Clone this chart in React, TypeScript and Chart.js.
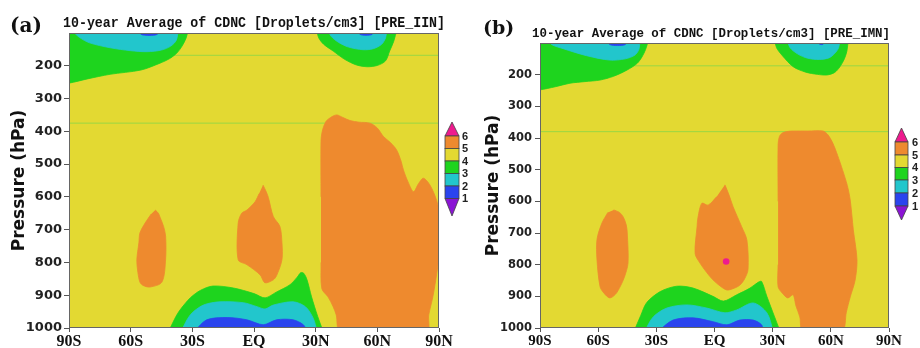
import React, { useEffect, useRef } from 'react';
import { Chart, registerables } from 'chart.js';

Chart.register(...registerables);

// ---------- axis / legend labels ----------
const xTickValues = [-90, -60, -30, 0, 30, 60, 90];
const xTickLabels = ['90S', '60S', '30S', 'EQ', '30N', '60N', '90N'];
const yTickValues = [200, 300, 400, 500, 600, 700, 800, 900, 1000];
const colorbarLabels = ['6', '5', '4', '3', '2', '1'];
const titleA = '10-year Average of CDNC [Droplets/cm3] [PRE_IIN]';
const titleB = '10-year Average of CDNC [Droplets/cm3] [PRE_IMN]';
const yAxisTitle = 'Pressure (hPa)';

// ---------- contour regions, [latitude, pressure] ----------
// Panel (a)
const aTopLeftGreen = [[-95, 90], [-95, 255], [-90, 253], [-81, 240], [-70, 226], [-55, 213], [-45.7, 192], [-41, 178], [-37.5, 161], [-35, 140], [-33, 115], [-32, 90]];
const aTopLeftCyan = [[-89, 90], [-85, 113], [-80, 130], [-70, 145], [-60, 154], [-52, 157], [-45, 152], [-40.5, 140], [-37.8, 122], [-36.8, 90]];
const aTopLeftBlue = [[-56, 90], [-55, 104], [-51, 107.5], [-47, 104], [-46, 90]];
const aTopRightGreen = [[30.5, 90], [31.5, 115], [34, 135], [38.5, 155], [44, 180], [50, 198], [55, 203], [60, 199], [64, 185], [66, 155], [68, 125], [69.5, 90]];
const aTopRightCyan = [[36, 90], [37.5, 110], [41, 128], [46, 143], [53, 151], [58, 148], [62, 135], [64, 115], [64.6, 90]];
const aTopRightBlue = [[50.5, 90], [51.5, 104], [54.5, 107], [57.5, 104], [58.5, 90]];
const aOrangeNorth = [[32.6, 600], [32.6, 430], [33.2, 400], [35, 370], [38, 355], [40.3, 350], [43, 357], [46.7, 367], [51, 372], [56.4, 375], [60, 390], [63, 416], [66.5, 435], [69.4, 457], [71.5, 490], [72.7, 518], [75, 555], [77.6, 584], [80, 560], [82.4, 543], [85.6, 564], [88.8, 610], [90.5, 660], [90.5, 750], [89, 830], [87, 905], [85, 960], [84, 1010], [42, 1010], [40, 960], [38.5, 935], [36, 905], [33, 880], [32.6, 800]];
const aOrangeSouth = [[-48, 640], [-46.5, 650], [-45.7, 662], [-44, 690], [-43, 720], [-43, 790], [-44.8, 860], [-50.6, 875], [-54, 870], [-55.5, 860], [-56.5, 830], [-57, 792], [-56, 740], [-55.5, 710], [-53, 680], [-50, 652]];
const aOrangeEq = [[4.4, 564], [6, 585], [7, 602], [9.4, 660], [12.6, 690], [13.6, 740], [13.6, 792], [11, 840], [9.4, 853], [5.3, 862], [3, 838], [-3.4, 807], [-7.7, 792], [-7.7, 680], [-6, 650], [-3.4, 640], [0.5, 615], [2.5, 590]];
const aBottomGreen = [[-41.5, 1010], [-38, 965], [-36, 945], [-31, 908], [-26, 885], [-20, 872], [-10, 878], [0, 895], [5.4, 908], [11, 890], [17.5, 868], [21, 845], [22.8, 831], [24.2, 833], [25.8, 853], [28, 905], [31, 965], [33.6, 1010]];
const aBottomCyan = [[-35.5, 1010], [-31, 960], [-24.6, 930], [-16.5, 920], [-5, 923], [1.5, 935], [5.4, 942], [9.4, 930], [19, 920], [25, 935], [28.8, 970], [30.7, 1010]];
const aBottomBlue = [[-29, 1010], [-23, 975], [-13, 968], [-3.5, 975], [4.5, 990], [11, 975], [19, 975], [24, 990], [25.8, 1010]];
const aFaintLevels = [168, 375];

// Panel (b)
const bTopLeftGreen = [[-95, 90], [-95, 250], [-90, 248], [-82, 238], [-74.5, 227], [-67, 222], [-59, 217], [-52, 205], [-45, 185], [-40, 165], [-37.4, 144], [-35.5, 120], [-34, 90]];
const bTopLeftCyan = [[-86, 90], [-84, 105], [-78, 118], [-66, 140], [-54, 154], [-46, 150], [-41, 138], [-39, 120], [-38.4, 90]];
const bTopLeftBlue = [[-55.5, 90], [-54, 105], [-50, 108], [-46, 105], [-45, 90]];
const bTopRightGreen = [[31, 90], [32, 115], [35, 140], [40.6, 175], [47, 192], [53, 199], [58, 201], [62, 193], [64.7, 175], [67, 150], [68.3, 125], [69, 90]];
const bTopRightCyan = [[37.5, 90], [39, 115], [43, 135], [48, 148], [54, 152], [59, 147], [62, 133], [64, 115], [64.7, 90]];
const bTopRightBlue = [[53, 90], [54, 103], [56, 104], [57, 90]];
const bOrangeNorth = [[32.8, 600], [32.8, 420], [33.5, 395], [35, 384], [38, 379], [40.5, 378], [48, 378], [56, 378], [58.5, 390], [61, 416], [63.5, 455], [66, 500], [68.5, 550], [70, 596], [71.6, 690], [73.5, 785], [72.5, 850], [70, 902], [68, 950], [65.7, 1010], [45.6, 1010], [44, 965], [42, 930], [40.5, 895], [37.8, 905], [35, 890], [32.8, 870], [32.8, 800]];
const bOrangeSouth = [[-52, 627], [-49, 635], [-47, 650], [-45.5, 675], [-45, 700], [-44.6, 795], [-46.5, 840], [-48.7, 870], [-51, 893], [-54, 905], [-57, 890], [-59, 870], [-60.6, 785], [-60.6, 720], [-58, 668], [-55, 635]];
const bOrangeEq = [[5.4, 548], [7.5, 580], [9.6, 617], [14, 680], [16.7, 722], [17.3, 815], [15.5, 845], [13, 865], [9.5, 876], [6.4, 880], [3, 868], [-0.8, 848], [-4, 825], [-7.5, 795], [-10, 765], [-9, 680], [-8.5, 650], [-6.5, 606], [-3.3, 612], [1.2, 585]];
const bMagentaDot = [[6, 790]];
const bBottomGreen = [[-41.5, 1010], [-38, 960], [-35, 920], [-28, 885], [-19.4, 868], [-11, 874], [-0.8, 900], [4.6, 915], [11.5, 895], [18.3, 874], [22.7, 855], [24.3, 853], [27, 900], [31, 965], [33.8, 1010]];
const bBottomCyan = [[-36, 1010], [-31.6, 965], [-24.6, 937], [-14.3, 927], [-4, 937], [5.4, 952], [11.4, 943], [20, 921], [27, 952], [30.3, 1010]];
const bBottomBlue = [[-29, 1010], [-21.4, 975], [-11, 968], [-0.8, 980], [6.4, 990], [13, 975], [20, 975], [24.3, 990], [25, 1010]];
const bFaintLevels = [172, 380];

// ---------- colours ----------
const C = {
  purple: '#8a14d4',
  blue: '#2a44ee',
  cyan: '#22c6cc',
  green: '#1ed41e',
  yellow: '#e3d932',
  orange: '#ee8a2e',
  magenta: '#ee1a8e',
  faint: 'rgba(140,215,70,0.85)',
};
const colorbarColors = [C.orange, C.yellow, C.green, C.cyan, C.blue];

const layersA = [
  { pts: aTopLeftGreen, color: C.green },
  { pts: aTopLeftCyan, color: C.cyan },
  { pts: aTopLeftBlue, color: C.blue },
  { pts: aTopRightGreen, color: C.green },
  { pts: aTopRightCyan, color: C.cyan },
  { pts: aTopRightBlue, color: C.blue },
  { pts: aOrangeNorth, color: C.orange },
  { pts: aOrangeSouth, color: C.orange },
  { pts: aOrangeEq, color: C.orange },
  { pts: aBottomGreen, color: C.green },
  { pts: aBottomCyan, color: C.cyan },
  { pts: aBottomBlue, color: C.blue },
];
const layersB = [
  { pts: bTopLeftGreen, color: C.green },
  { pts: bTopLeftCyan, color: C.cyan },
  { pts: bTopLeftBlue, color: C.blue },
  { pts: bTopRightGreen, color: C.green },
  { pts: bTopRightCyan, color: C.cyan },
  { pts: bTopRightBlue, color: C.blue },
  { pts: bOrangeNorth, color: C.orange },
  { pts: bOrangeSouth, color: C.orange },
  { pts: bOrangeEq, color: C.orange },
  { pts: bBottomGreen, color: C.green },
  { pts: bBottomCyan, color: C.cyan },
  { pts: bBottomBlue, color: C.blue },
];

const panelA = {
  left: 0, width: 478, letter: '(a)', title: titleA, layers: layersA, faint: aFaintLevels, dots: [] as number[][],
  padTop: 33, padRight: 39, yAxisWidth: 69, yTitlePad: 9,
  yTickFont: 13, yTickLen: 5, yTickPad: 2, xTickFont: 16, xTickLen: 4,
  letterFont: 20, letterX: 10, letterY: 32,
  titleFont: 14.5, titleX: 63, titleY: 26.5, titleW: 382,
  cbX0: 445, cbX1: 459, cbTipTop: 122, cbEdges: [136, 148.5, 161, 173.5, 186, 198.5], cbTipBottom: 216, cbLabelX: 462,
};
const panelB = {
  left: 460, width: 460, letter: '(b)', title: titleB, layers: layersB, faint: bFaintLevels, dots: bMagentaDot,
  padTop: 43, padRight: 31, yAxisWidth: 80, yTitlePad: 23,
  yTickFont: 11.5, yTickLen: 5, yTickPad: 3, xTickFont: 15, xTickLen: 4,
  letterFont: 19, letterX: 23, letterY: 34,
  titleFont: 13.5, titleX: 72, titleY: 37, titleW: 358,
  cbX0: 435, cbX1: 448, cbTipTop: 128, cbEdges: [142, 155, 167.5, 180, 193, 206], cbTipBottom: 220, cbLabelX: 452,
};

function Panel({ cfg }: { cfg: any }) {
  const ref = useRef<HTMLCanvasElement>(null);
  useEffect(() => {
    if (!ref.current) return;
    const n = cfg.layers.length;
    const datasets: any[] = [];
    cfg.faint.forEach((lvl: number) => {
      datasets.push({
        data: [{ x: -90, y: lvl }, { x: 90, y: lvl }],
        showLine: true, fill: false, borderColor: C.faint, borderWidth: 1,
        pointRadius: 0, order: n + 20,
      });
    });
    cfg.layers.forEach((l: any, i: number) => {
      datasets.push({
        data: l.pts.map((p: number[]) => ({ x: p[0], y: p[1] })),
        showLine: true, fill: 'shape', backgroundColor: l.color, borderColor: l.color,
        borderWidth: 0.8, pointRadius: 0, tension: 0.3, order: n - i + 5,
      });
    });
    if (cfg.dots.length) {
      datasets.push({
        data: cfg.dots.map((p: number[]) => ({ x: p[0], y: p[1] })),
        showLine: false, pointRadius: 3.3, pointBackgroundColor: C.magenta,
        pointBorderWidth: 0, pointBorderColor: C.magenta, order: 0,
      });
    }

    const decor = {
      id: 'decor',
      beforeDatasetsDraw(chart: any) {
        const { ctx, chartArea: a } = chart;
        ctx.save();
        ctx.fillStyle = C.yellow;
        ctx.fillRect(a.left, a.top, a.right - a.left, a.bottom - a.top);
        ctx.restore();
      },
      afterDatasetsDraw(chart: any) {
        const { ctx, chartArea: a } = chart;
        ctx.save();
        ctx.strokeStyle = '#666';
        ctx.lineWidth = 1;
        ctx.strokeRect(a.left + 0.5, a.top + 0.5, a.right - a.left - 1, a.bottom - a.top - 1);
        ctx.restore();
      },
      afterDraw(chart: any) {
        const ctx = chart.ctx;
        ctx.save();
        ctx.fillStyle = '#111';
        ctx.textBaseline = 'alphabetic';
        ctx.textAlign = 'left';
        ctx.font = `bold ${cfg.letterFont}px "DejaVu Serif", serif`;
        ctx.fillText(cfg.letter, cfg.letterX, cfg.letterY);
        ctx.font = `bold ${cfg.titleFont}px "Liberation Mono", monospace`;
        ctx.fillText(cfg.title, cfg.titleX, cfg.titleY, cfg.titleW);

        // colour bar
        const x0 = cfg.cbX0, x1 = cfg.cbX1, xm = (x0 + x1) / 2, e = cfg.cbEdges;
        ctx.strokeStyle = '#444';
        ctx.lineWidth = 0.8;
        ctx.beginPath();
        ctx.moveTo(xm, cfg.cbTipTop); ctx.lineTo(x1, e[0]); ctx.lineTo(x0, e[0]); ctx.closePath();
        ctx.fillStyle = C.magenta; ctx.fill(); ctx.stroke();
        for (let i = 0; i < colorbarColors.length; i++) {
          ctx.fillStyle = colorbarColors[i];
          ctx.fillRect(x0, e[i], x1 - x0, e[i + 1] - e[i]);
          ctx.strokeRect(x0, e[i], x1 - x0, e[i + 1] - e[i]);
        }
        const last = e[e.length - 1];
        ctx.beginPath();
        ctx.moveTo(x0, last); ctx.lineTo(x1, last); ctx.lineTo(xm, cfg.cbTipBottom); ctx.closePath();
        ctx.fillStyle = C.purple; ctx.fill(); ctx.stroke();

        ctx.fillStyle = '#222';
        ctx.font = 'bold 11px "Liberation Sans", Arial, sans-serif';
        ctx.textBaseline = 'middle';
        colorbarLabels.forEach((lab, i) => ctx.fillText(lab, cfg.cbLabelX, e[i] + 0.5));
        ctx.restore();
      },
    };

    const chart = new Chart(ref.current, {
      type: 'scatter',
      data: { datasets },
      options: {
        responsive: false,
        animation: false,
        devicePixelRatio: 1,
        layout: { padding: { left: 0, right: cfg.padRight, top: cfg.padTop, bottom: 0 } },
        plugins: { legend: { display: false }, tooltip: { enabled: false }, title: { display: false } },
        scales: {
          x: {
            type: 'linear', min: -90, max: 90, position: 'bottom',
            afterBuildTicks: (s: any) => { s.ticks = xTickValues.map((v) => ({ value: v })); },
            afterFit: (s: any) => { s.height = 20; },
            ticks: {
              callback: (_v: any, i: number) => xTickLabels[i],
              font: { family: '"Liberation Serif", serif', weight: 'bold', size: cfg.xTickFont },
              color: '#111', padding: 0, maxRotation: 0, autoSkip: false,
            },
            grid: { drawOnChartArea: false, drawTicks: true, tickLength: cfg.xTickLen, tickColor: '#555' },
            border: { display: false },
          },
          y: {
            type: 'linear', min: 100, max: 1000, reverse: true, position: 'left',
            afterBuildTicks: (s: any) => { s.ticks = yTickValues.map((v) => ({ value: v })); },
            afterFit: (s: any) => { s.width = cfg.yAxisWidth; },
            ticks: {
              callback: (_v: any, i: number) => String(yTickValues[i]),
              font: { family: '"DejaVu Sans", sans-serif', weight: 'bold', size: cfg.yTickFont },
              color: '#222', padding: cfg.yTickPad, autoSkip: false,
            },
            grid: { drawOnChartArea: false, drawTicks: true, tickLength: cfg.yTickLen, tickColor: '#555' },
            border: { display: false },
            title: {
              display: true, text: yAxisTitle, color: '#111',
              font: { family: '"DejaVu Sans", sans-serif', weight: 'bold', size: 17 },
              padding: { top: cfg.yTitlePad, bottom: 0 },
            },
          },
        },
      } as any,
      plugins: [decor],
    });
    return () => chart.destroy();
  }, [cfg]);
  return (
    <canvas
      ref={ref}
      width={cfg.width}
      height={348}
      style={{ position: 'absolute', left: cfg.left, top: 0, width: cfg.width, height: 348 }}
    />
  );
}

export default function App() {
  return (
    <div style={{ position: 'absolute', left: 0, top: 0, width: 920, height: 348, background: '#fff', overflow: 'hidden' }}>
      <Panel cfg={panelA} />
      <Panel cfg={panelB} />
    </div>
  );
}
